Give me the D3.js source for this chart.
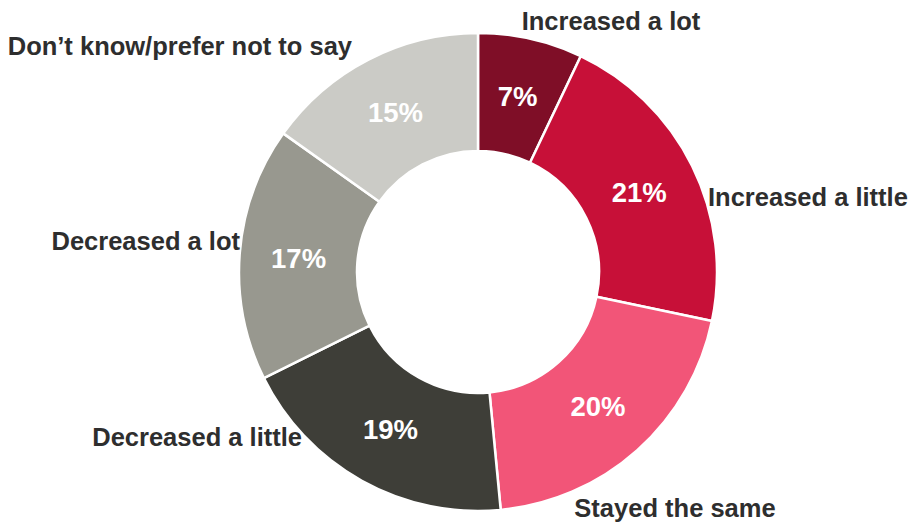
<!DOCTYPE html>
<html><head><meta charset="utf-8">
<script src="https://cdn.jsdelivr.net/npm/d3@7"></script>
<style>html,body{margin:0;padding:0;background:#fff;}svg{display:block;}</style>
</head><body>
<svg id="chart" width="909" height="524"></svg>
<script>
const categories = ["Increased a lot","Increased a little","Stayed the same","Decreased a little","Decreased a lot","Don\u2019t know/prefer not to say"];
const values = [7,21,20,19,17,15];
const colors = ["#7f0e27","#c71038","#f25578","#3e3e38","#98988f","#cbcbc6"];
// label layout (x, y baseline, anchor) – presentation only
const labelLayout = [
  [611, 30, "middle"],
  [708, 206, "start"],
  [675, 517, "middle"],
  [302, 446, "end"],
  [240, 250, "end"],
  [352, 55, "end"]
];

const svg = d3.select("#chart");
const cx = 478, cy = 272, rOuter = 239, rInner = 121;
const g = svg.append("g").attr("transform", `translate(${cx},${cy})`);
const pie = d3.pie().sort(null).value(d => d);
const arcs = pie(values);
const arc = d3.arc().innerRadius(rInner).outerRadius(rOuter);
const labelArc = d3.arc().innerRadius(180).outerRadius(180);

g.selectAll("path").data(arcs).join("path")
  .attr("d", arc)
  .attr("fill", (d,i) => colors[i])
  .attr("stroke", "#fff")
  .attr("stroke-width", 2.5)
  .attr("stroke-linejoin", "round");

g.selectAll("text.pct").data(arcs).join("text")
  .attr("class","pct")
  .attr("transform", d => `translate(${labelArc.centroid(d)})`)
  .attr("text-anchor","middle")
  .attr("dy","0.36em")
  .attr("fill","#fff")
  .style("font-family","'Liberation Sans', Arial, sans-serif")
  .style("font-weight","bold")
  .style("font-size","27.5px")
  .text(d => d.data + "%");

svg.selectAll("text.cat").data(categories).join("text")
  .attr("class","cat")
  .attr("x", (d,i) => labelLayout[i][0])
  .attr("y", (d,i) => labelLayout[i][1])
  .attr("text-anchor", (d,i) => labelLayout[i][2])
  .attr("fill","#2e2e2e")
  .style("font-family","'Liberation Sans', Arial, sans-serif")
  .style("font-weight","bold")
  .style("font-size","25.5px")
  .text(d => d);
</script>
</body></html>
